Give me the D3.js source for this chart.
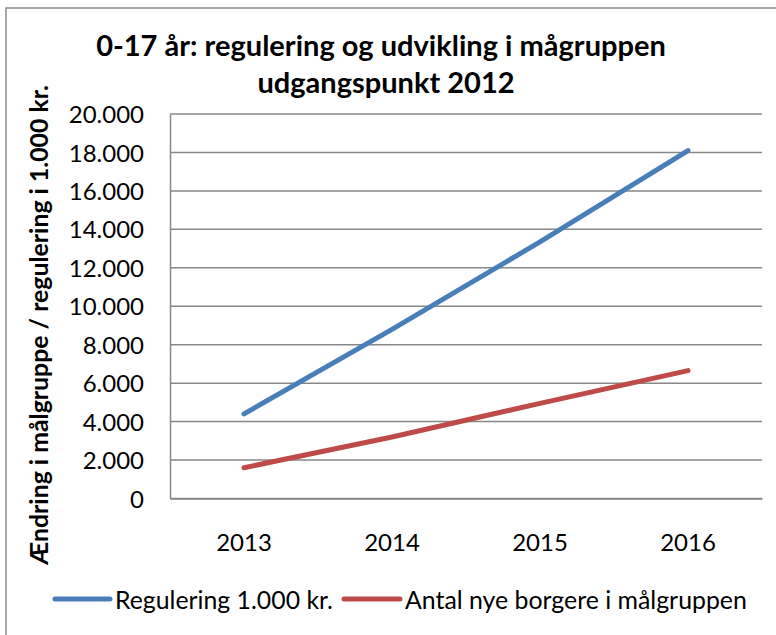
<!DOCTYPE html>
<html>
<head>
<meta charset="utf-8">
<script src="https://cdnjs.cloudflare.com/ajax/libs/d3/7.8.5/d3.min.js"></script>
<style>
  html, body { margin: 0; padding: 0; background: #fff; }
  svg { display: block; font-family: Lato, "Open Sans", sans-serif; }
</style>
</head>
<body>
<div id="chart"></div>
<script>
// data
const years = ['2013', '2014', '2015', '2016'];
const regulering = [4400, 8800, 13350, 18100];
const nyeBorgere = [1600, 3200, 4950, 6650];
const yTicks = [0, 2000, 4000, 6000, 8000, 10000, 12000, 14000, 16000, 18000, 20000];
const seriesNames = ['Regulering 1.000 kr.', 'Antal nye borgere i målgruppen'];
const titleLines = ['0-17 år: regulering og udvikling i mågruppen', 'udgangspunkt 2012'];
const yTitle = 'Ændring i målgruppe / regulering i 1.000 kr.';

const W = 776, H = 635;
const colors = ['#4a7ebb', '#be4b48'];

const svg = d3.select('#chart').append('svg')
  .attr('width', W).attr('height', H);

// outer chart frame
svg.append('rect')
  .attr('x', 6).attr('y', 8).attr('width', W + 10).attr('height', H + 10)
  .attr('fill', '#fff').attr('stroke', '#8a8a8a').attr('stroke-width', 1.5);

// scale a text's font size so it spans the given width
function fit(sel, width) {
  const n = sel.node();
  const base = parseFloat(sel.attr('font-size'));
  sel.attr('font-size', base * width / n.getComputedTextLength());
  return sel;
}

const plot = { left: 170, right: 762, top: 114, bottom: 498.5 };

const x = d3.scaleBand().domain(years).range([plot.left, plot.right]);
const y = d3.scaleLinear().domain([0, 20000]).range([plot.bottom, plot.top]);

const fmt = d => d3.format(',')(d).replace(/,/g, '.');

// gridlines
svg.append('g')
  .selectAll('line')
  .data(yTicks)
  .join('line')
  .attr('x1', plot.left).attr('x2', plot.right)
  .attr('y1', d => y(d)).attr('y2', d => y(d))
  .attr('stroke', '#878787').attr('stroke-width', 1.5);

// y axis
const yAxis = svg.append('g')
  .attr('transform', `translate(${plot.left},0)`)
  .call(d3.axisLeft(y).tickValues(yTicks).tickFormat(fmt).tickSize(0).tickPadding(26));
yAxis.select('.domain').attr('stroke', '#878787').attr('stroke-width', 1.5);
yAxis.selectAll('text')
  .attr('font-family', 'Lato, sans-serif')
  .attr('font-size', 24).attr('fill', '#000').attr('dy', '0.36em');

// x axis
const xAxis = svg.append('g')
  .attr('transform', `translate(0,${plot.bottom})`)
  .call(d3.axisBottom(x).tickSize(0).tickPadding(35));
xAxis.select('.domain').attr('stroke', '#878787').attr('stroke-width', 1.5);
xAxis.selectAll('text')
  .attr('font-family', 'Lato, sans-serif')
  .attr('font-size', 24).attr('fill', '#000');

// lines
const line = d3.line()
  .x((d, i) => x(years[i]) + x.bandwidth() / 2)
  .y(d => y(d));

[regulering, nyeBorgere].forEach((s, i) => {
  svg.append('path')
    .datum(s)
    .attr('d', line)
    .attr('fill', 'none')
    .attr('stroke', colors[i])
    .attr('stroke-width', 5)
    .attr('stroke-linecap', 'round')
    .attr('stroke-linejoin', 'round');
});

// title
const t1 = svg.append('text')
  .attr('x', 381).attr('y', 56).attr('text-anchor', 'middle')
  .attr('font-weight', 'bold').attr('font-size', 28)
  .text(titleLines[0]);
fit(t1, 570);
svg.append('text')
  .attr('x', 386).attr('y', 93).attr('text-anchor', 'middle')
  .attr('font-weight', 'bold').attr('font-size', t1.attr('font-size'))
  .text(titleLines[1]);

// y axis title
const yt = svg.append('text')
  .attr('transform', 'translate(48,325) rotate(-90)')
  .attr('text-anchor', 'middle')
  .attr('font-weight', 'bold').attr('font-size', 22)
  .text(yTitle);
fit(yt, 480);

// legend
const legend = [
  { x1: 55, x2: 110, tx: 115, w: 218 },
  { x1: 344, x2: 400, tx: 405, w: 342 }
];
legend.forEach((l, i) => {
  svg.append('line')
    .attr('x1', l.x1).attr('x2', l.x2).attr('y1', 599).attr('y2', 599)
    .attr('stroke', colors[i]).attr('stroke-width', 5).attr('stroke-linecap', 'round');
  const t = svg.append('text')
    .attr('x', l.tx).attr('y', 609)
    .attr('font-size', 24)
    .text(seriesNames[i]);
  fit(t, l.w);
});
</script>
</body>
</html>
